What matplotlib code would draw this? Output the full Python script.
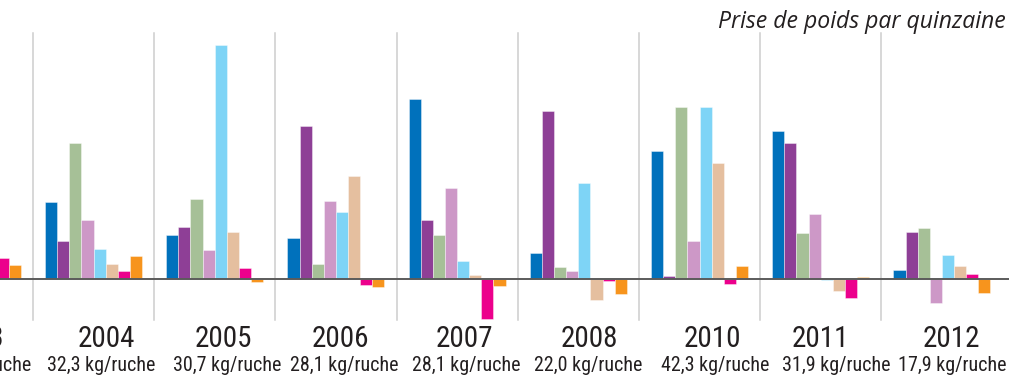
import numpy as np
import matplotlib
matplotlib.use("Agg")
import matplotlib.pyplot as plt
from matplotlib import font_manager

# Fortnightly weight gain per hive, one bar per fortnight, grouped by year
years = ["2003", "2004", "2005", "2006", "2007", "2008", "2010", "2011", "2012"]
totals = [None, "32,3", "30,7", "28,1", "28,1", "22,0", "42,3", "31,9", "17,9"]

nan = np.nan
q1 = [nan, 3.83, 2.22, 2.03, 8.98, 1.28, 6.38, 7.38, 0.45]
q2 = [nan, 1.88, 2.58, 7.67, 2.93, 8.40, 0.17, 6.82, 2.37]
q3 = [nan, 6.78, 3.98, 0.73, 2.18, 0.62, 8.60, 2.30, 2.55]
q4 = [nan, 2.93, 1.47, 3.92, 4.57, 0.42, 1.92, 3.25, -1.18]
q5 = [nan, 1.52, 11.72, 3.33, 0.90, 4.78, 8.60, -0.03, 1.18]
q6 = [nan, 0.77, 2.33, 5.17, 0.18, -1.03, 5.78, -0.60, 0.67]
q7 = [1.03, 0.40, 0.53, -0.32, -2.00, -0.10, -0.25, -0.95, 0.25]
q8 = [0.68, 1.17, -0.13, -0.40, -0.35, -0.75, 0.65, 0.08, -0.72]
series = [q1, q2, q3, q4, q5, q6, q7, q8]

colors = ["#0071BC", "#8E3F96", "#A6C097", "#CD98C7", "#7ED4F6",
          "#E5BF9F", "#EC008C", "#F7941D"]

# label placement (offset from group centre, in group widths)
year_dx = [0.0, 0.109, 0.071, 0.038, 0.061, 0.087, 0.107, 0.0, 0.078]
total_dx = [0.0, 0.062, 0.106, 0.073, 0.076, 0.080, 0.132, 0.132, 0.087]

avail = {f.name for f in font_manager.fontManager.ttflist}
narrow = [f for f in ["Roboto Condensed", "Archivo Narrow", "Liberation Sans"]
          if f in avail] or ["DejaVu Sans"]
title_font = [f for f in ["Open Sans", "Noto Sans", "DejaVu Sans"] if f in avail]

W, H = 1009, 376
fig = plt.figure(figsize=(W / 100, H / 100), dpi=100)
ax = fig.add_axes([0, 0, 1, 1])
ax.set_axis_off()

GROUP_PX = 121.2
X0_PX = 93.5          # pixel centre of group index 1
PX_PER_UNIT = 20.0
BASE_PX = 279.0

def px_to_x(px):
    return 1 + (px - X0_PX) / GROUP_PX

ax.set_xlim(px_to_x(0), px_to_x(W))
ax.set_ylim(-(H - BASE_PX) / PX_PER_UNIT, BASE_PX / PX_PER_UNIT)

idx = np.arange(len(years))
bw = 0.1
for k, (vals, c) in enumerate(zip(series, colors)):
    ax.bar(idx + (k - 3.5) * bw, vals, width=bw, color=c,
           edgecolor=(1, 1, 1, 0.55), linewidth=0.5, zorder=2)

# baseline
ax.axhline(0, color="#5b5b5b", lw=1.4, zorder=3)

# group separators
sep_top = (BASE_PX - 33) / PX_PER_UNIT
sep_bot = -(320 - BASE_PX) / PX_PER_UNIT
for s in np.arange(len(years) - 1) + 0.5:
    ax.plot([s, s], [sep_bot, sep_top], color="#cdcdcd", lw=1.1, zorder=1)

# year and total labels
y_year = 1 - 347 / H
y_tot = 1 - 371 / H
year_fs, tot_fs = 21, 14.4
for i, (yr, tot) in enumerate(zip(years, totals)):
    if tot is None:
        fig.text(4.5 / W, y_year, yr, ha="right", va="baseline",
                 fontsize=year_fs, family=narrow, color="#231F20")
        fig.text(32.3 / W, y_tot, "kg/ruche", ha="right", va="baseline",
                 fontsize=tot_fs, family=narrow, color="#231F20")
        continue
    xf = ax.transData.transform((i + year_dx[i], 0))[0] / W
    fig.text(xf, y_year, yr, ha="center", va="baseline",
             fontsize=year_fs, family=narrow, color="#231F20")
    xf2 = ax.transData.transform((i + total_dx[i], 0))[0] / W
    fig.text(xf2, y_tot, f"{tot} kg/ruche", ha="center", va="baseline",
             fontsize=tot_fs, family=narrow, color="#231F20")

fig.text(1006 / W, 1 - 27.5 / H, "Prise de poids par quinzaine",
         ha="right", va="baseline", fontsize=16.6, style="italic",
         family=title_font, color="#231F20")

fig.savefig("out.png", dpi=100)
